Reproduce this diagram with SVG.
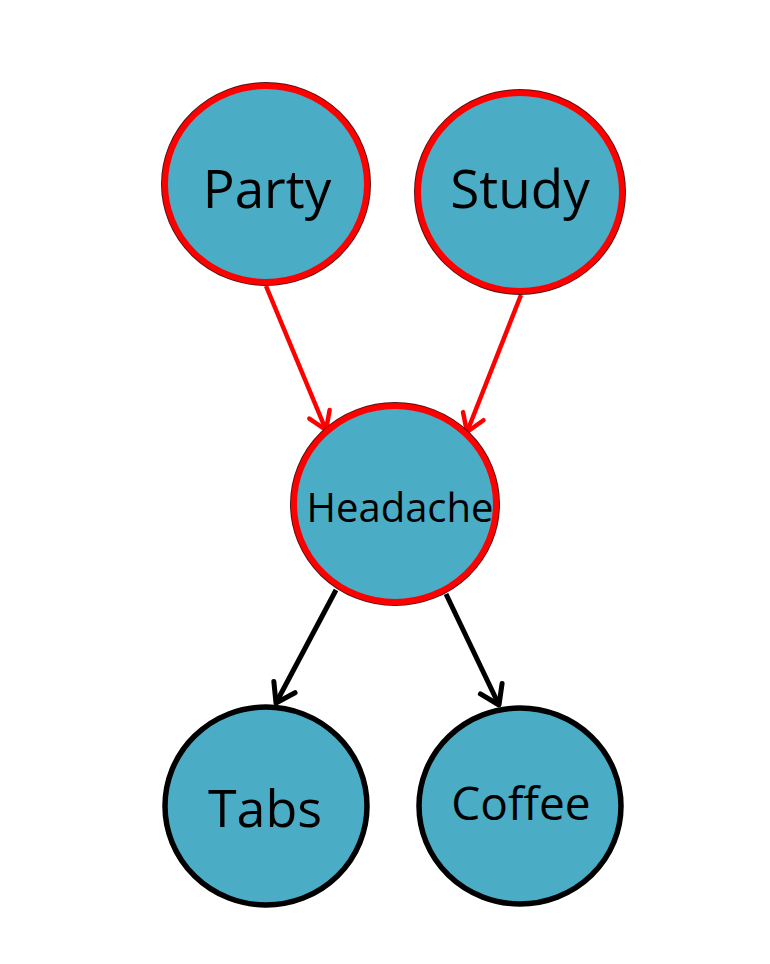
<svg xmlns="http://www.w3.org/2000/svg" width="770" height="964" viewBox="0 0 770 964">
<style>
.halo{fill:none;stroke:#5a1010;stroke-width:8}
.red{fill:#4BACC6;stroke:#FF0000;stroke-width:6}
.blk{fill:#4BACC6;stroke:#000000;stroke-width:5.5}
.lbl{font-family:"Open Sans","Noto Sans",sans-serif;fill:#000;text-anchor:middle}
.er{stroke:#FF0000;stroke-width:4.5;fill:none}
.eb{stroke:#000;stroke-width:5;fill:none}
</style>
<defs>
<marker id="ar" markerUnits="userSpaceOnUse" viewBox="-22 -14 26 28" markerWidth="26" markerHeight="28" refX="0" refY="0" orient="auto">
<path d="M-17,-11 L0,0 L-17,11" fill="none" stroke="#FF0000" stroke-width="4.5" stroke-linecap="round" stroke-linejoin="round"/>
</marker>
<marker id="ab" markerUnits="userSpaceOnUse" viewBox="-24 -16 28 32" markerWidth="28" markerHeight="32" refX="0" refY="0" orient="auto">
<path d="M-18,-12 L0,0 L-18,12" fill="none" stroke="#000" stroke-width="5" stroke-linecap="round" stroke-linejoin="round"/>
</marker>
</defs>
<rect width="770" height="964" fill="#fff"/>
<g id="connectors">
<line class="er" x1="266" y1="286" x2="326" y2="430" marker-end="url(#ar)"/>
<line class="er" x1="521" y1="295" x2="467" y2="432" marker-end="url(#ar)"/>
<line class="eb" x1="336" y1="590" x2="276" y2="703" marker-end="url(#ab)"/>
<line class="eb" x1="446" y1="594" x2="499" y2="705" marker-end="url(#ab)"/>
</g>
<g id="party">
<ellipse class="halo" cx="266" cy="184" rx="101" ry="98"/>
<ellipse class="red" cx="266" cy="184" rx="101" ry="98"/>
<text class="lbl" x="267" y="208" font-size="53">Party</text>
</g>
<g id="study">
<ellipse class="halo" cx="520" cy="192" rx="102" ry="99"/>
<ellipse class="red" cx="520" cy="192" rx="102" ry="99"/>
<text class="lbl" x="520" y="208" font-size="53">Study</text>
</g>
<g id="headache">
<ellipse class="halo" cx="395" cy="504" rx="101" ry="98"/>
<ellipse class="red" cx="395" cy="504" rx="101" ry="98"/>
<text class="lbl" x="400" y="522" font-size="40">Headache</text>
</g>
<g id="tabs">
<ellipse class="blk" cx="266" cy="806" rx="101" ry="99"/>
<text class="lbl" x="265" y="827" font-size="52">Tabs</text>
</g>
<g id="coffee">
<ellipse class="blk" cx="520" cy="806" rx="101" ry="98"/>
<text class="lbl" x="521" y="820" font-size="46">Coffee</text>
</g>
</svg>
